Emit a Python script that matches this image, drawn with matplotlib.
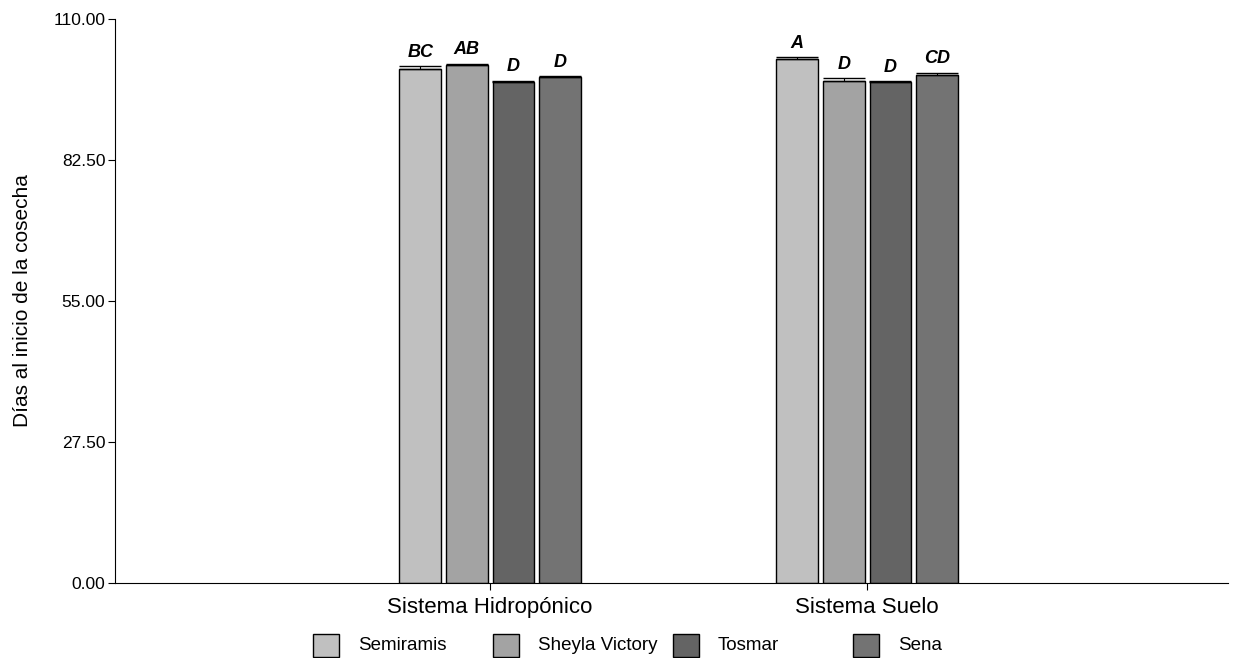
import matplotlib.pyplot as plt
import numpy as np
from matplotlib.patches import Rectangle

plt.rcParams['font.family'] = ['Liberation Sans', 'DejaVu Sans']

systems = ['Sistema Hidropónico', 'Sistema Suelo']
varieties = ['Semiramis', 'Sheyla Victory', 'Tosmar', 'Sena']
colors = ['#c0c0c0', '#a3a3a3', '#646464', '#737373']

# mean days per variety, [hidroponico, suelo]
semiramis = [100.2, 102.2]
sheyla = [101.1, 98.0]
tosmar = [97.7, 97.7]
sena = [98.6, 99.0]
means = [semiramis, sheyla, tosmar, sena]

err_semiramis = [0.6, 0.35]
err_sheyla = [0.2, 0.4]
err_tosmar = [0.2, 0.15]
err_sena = [0.2, 0.5]
errors = [err_semiramis, err_sheyla, err_tosmar, err_sena]

letters_semiramis = ['BC', 'A']
letters_sheyla = ['AB', 'D']
letters_tosmar = ['D', 'D']
letters_sena = ['D', 'CD']
letters = [letters_semiramis, letters_sheyla, letters_tosmar, letters_sena]

W, H = 1244, 658
fig = plt.figure(figsize=(W / 100, H / 100), dpi=100)
ax = fig.add_axes([115 / W, 1 - 583 / H, 1113 / W, 564 / H])

x = np.arange(len(systems))
width = 0.111
step = 0.1235
offsets = (np.arange(4) - 1.5) * step

for i in range(len(varieties)):
    pos = x + offsets[i]
    ax.bar(pos, means[i], width=width, color=colors[i], edgecolor='black', linewidth=1.0, zorder=2)
    ax.errorbar(pos, means[i], yerr=[np.zeros(2), errors[i]], fmt='none', ecolor='black',
                elinewidth=0.8, capsize=15, capthick=1.0, zorder=3)
    for j in range(len(systems)):
        ax.annotate(letters[i][j], (pos[j], means[i][j] + errors[i][j]), xytext=(0, 4),
                    textcoords='offset points', ha='center', va='bottom',
                    fontsize=13, fontweight='bold', fontstyle='italic')

ax.set_ylim(0, 110)
ax.set_xlim(-0.995, 1.957)
yt = [0, 27.5, 55, 82.5, 110]
ax.set_yticks(yt)
ax.set_yticklabels(['%.2f' % v for v in yt], fontsize=12.5)
ax.set_xticks(x)
ax.set_xticklabels(systems, fontsize=16)
ax.tick_params(axis='x', length=5, width=0.8, pad=5)
ax.tick_params(axis='y', length=5, width=0.8, pad=2)
ax.spines['top'].set_visible(False)
ax.spines['right'].set_visible(False)
ax.set_ylabel('Días al inicio de la cosecha', fontsize=15, labelpad=15)

# legend: evenly spaced boxes along the bottom
for i, name in enumerate(varieties):
    bx = 313 + 180 * i
    fig.add_artist(Rectangle((bx / W, 1 - 657 / H), 26 / W, 23 / H, transform=fig.transFigure,
                             facecolor=colors[i], edgecolor='black', linewidth=1.0))
    fig.text((bx + 45) / W, 1 - 646 / H, name, fontsize=13.5, va='center', ha='left')

fig.savefig('out.png', dpi=100)
